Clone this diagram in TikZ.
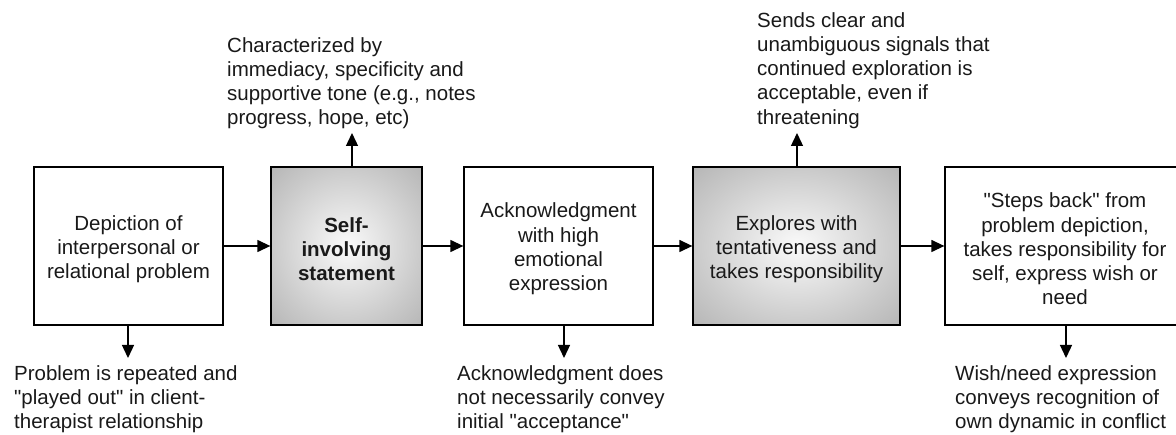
\documentclass[tikz,border=0pt]{standalone}
\usepackage{fontspec}
\setmainfont{Liberation Sans}[Ligatures=TeXOff]
\usetikzlibrary{arrows.meta}
% extra head room on the first line of a stage label
\newcommand\headroom{\rule{0pt}{21pt}}
% soft grey glow for the highlighted stages: light centre, darker rim
\pgfdeclareradialshading{boxglow}{\pgfpoint{0bp}{0bp}}{%
  color(0bp)=(gray!4); color(25bp)=(gray!42); color(36bp)=(gray!58); color(50bp)=(gray!58)}
\begin{document}
\begin{tikzpicture}[x=1pt,y=-1pt,
  txt/.style={font=\fontsize{20.5}{24.3}\selectfont, inner sep=0pt, text=black!90},
  stage/.style={txt, draw=black, line width=1.3pt, minimum height=158pt, align=center},
  glow/.style={shading=boxglow},
  note/.style={txt, align=left, anchor=north west},
  flow/.style={line width=1.3pt, -{Triangle[length=13pt,width=12pt]}}
]
\useasboundingbox (0,0) rectangle (1176,435);
\clip (0,0) rectangle (1176,435);

% the five stages
\node[stage, minimum width=189pt] (s1) at (128.5,246)
  {\headroom Depiction of\\interpersonal or\\relational problem};
\node[stage, glow, minimum width=151pt, font=\fontsize{20.5}{24.3}\selectfont\bfseries] (s2) at (346.5,246)
  {\headroom Self-\\involving\\statement};
\node[stage, minimum width=189pt] (s3) at (558.5,246)
  {\headroom Acknowledgment\\with high\\emotional\\expression};
\node[stage, glow, minimum width=207pt] (s4) at (796.5,246)
  {\headroom Explores with\\tentativeness and\\takes responsibility};
\node[stage, minimum width=240pt] (s5) at (1065,246)
  {\headroom "Steps back" from\\problem depiction,\\takes responsibility for\\self, express wish or\\need};

% notes above and below
\node[note] (n2) at (227,37)
  {Characterized by\\immediacy, specificity and\\supportive tone (e.g., notes\\progress, hope, etc)};
\node[note] (n4) at (757,12)
  {Sends clear and\\unambiguous signals that\\continued exploration is\\acceptable, even if\\threatening};
\node[note] (n1) at (14,365)
  {Problem is repeated and\\"played out" in client-\\therapist relationship};
\node[note] (n3) at (457,365)
  {Acknowledgment does\\not necessarily convey\\initial "acceptance"};
\node[note] (n5) at (955,365)
  {Wish/need expression\\conveys recognition of\\own dynamic in conflict};

% arrow ends next to the notes
\coordinate (u2) at (352,133);
\coordinate (u4) at (797,133);
\coordinate (d1) at (128,358);
\coordinate (d3) at (564,358);
\coordinate (d5) at (1066,358);

% main sequence
\draw[flow] (s1.east) -- (s2.west);
\draw[flow] (s2.east) -- (s3.west);
\draw[flow] (s3.east) -- (s4.west);
\draw[flow] (s4.east) -- (s5.west);

% links to the notes
\draw[flow] (s2.north -| u2) -- (u2);
\draw[flow] (s4.north -| u4) -- (u4);
\draw[flow] (s1.south -| d1) -- (d1);
\draw[flow] (s3.south -| d3) -- (d3);
\draw[flow] (s5.south -| d5) -- (d5);
\end{tikzpicture}
\end{document}
